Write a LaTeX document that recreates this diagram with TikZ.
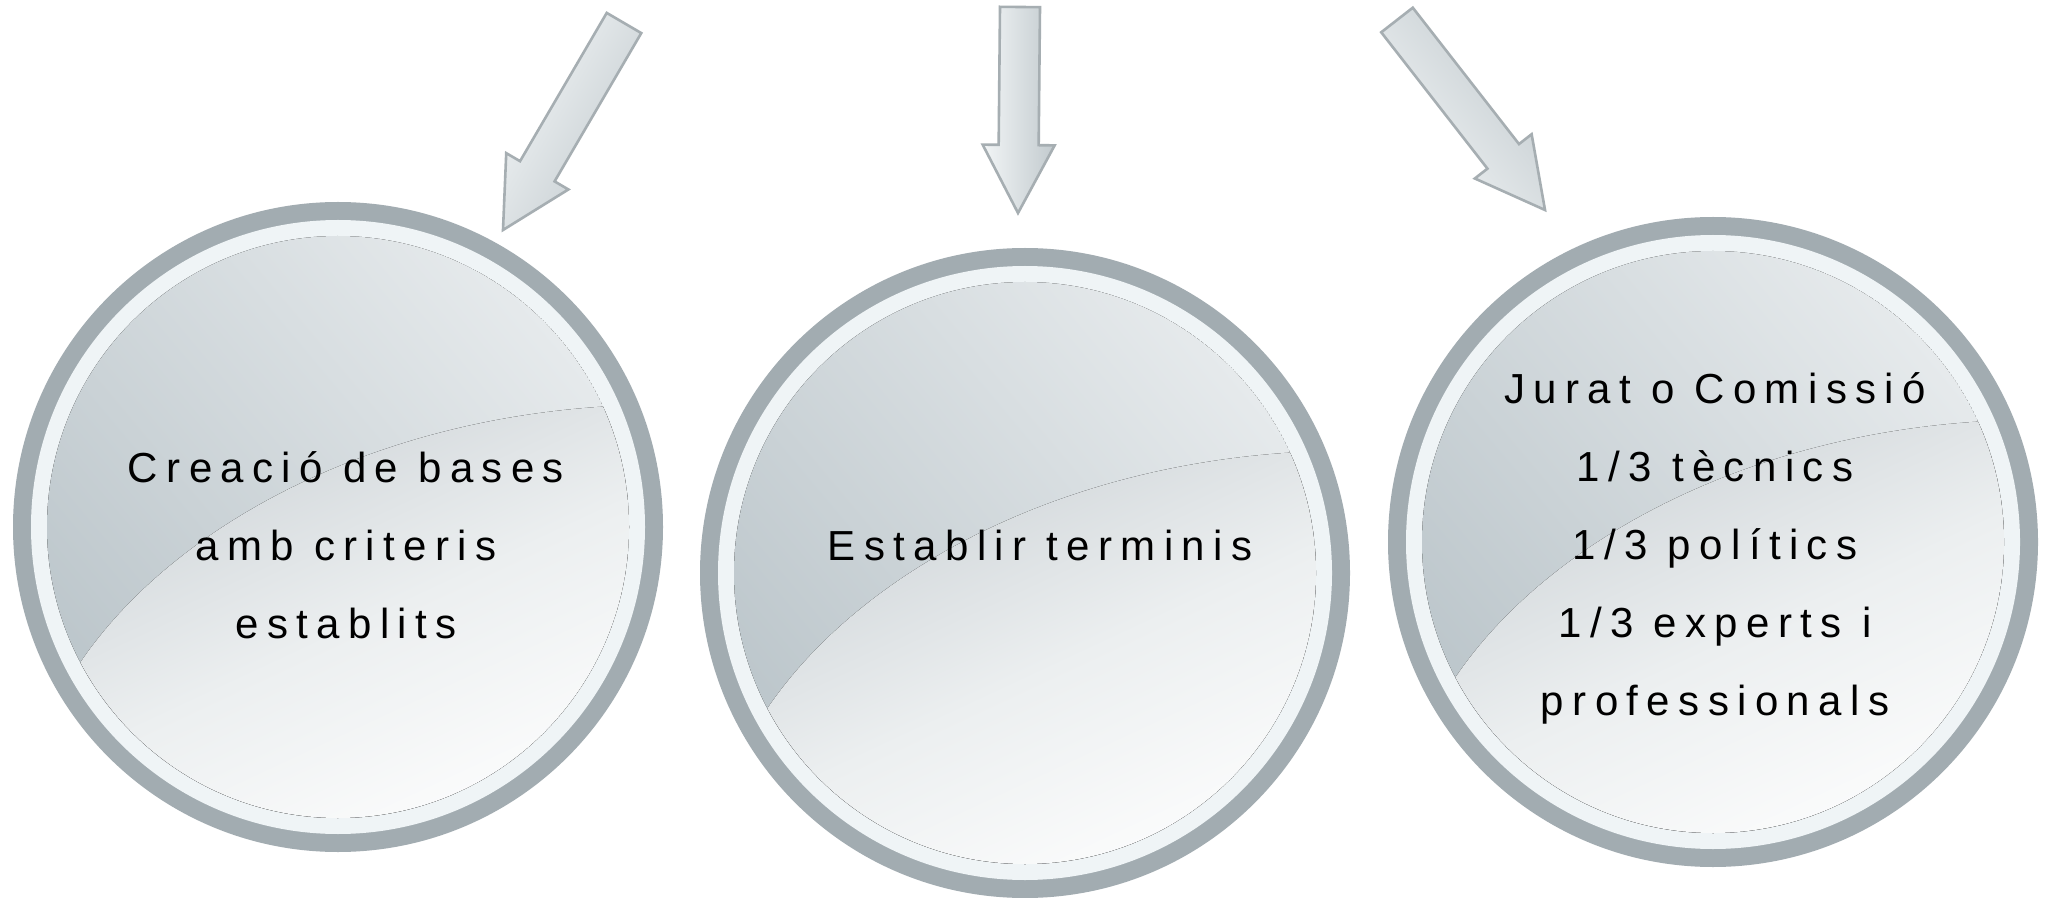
\documentclass[tikz,border=0pt]{standalone}
\usepackage{fontspec}
\setmainfont{Liberation Sans}
\newfontfamily\lblfont{Liberation Sans}[LetterSpace=20]
\usetikzlibrary{calc}

\definecolor{ringgray}{HTML}{A2ACB1}
\definecolor{ringwhite}{HTML}{EFF4F6}
\definecolor{innerdark}{HTML}{BCC6CB}
\definecolor{innerlight}{HTML}{E6EAEC}
\definecolor{glossdark}{HTML}{CBD1D5}
\definecolor{glossmid}{HTML}{ECEFF0}
\definecolor{glosslight}{HTML}{FFFFFF}
\definecolor{arrowline}{HTML}{A6AEB2}
\definecolor{arrowlight}{HTML}{F2F5F6}
\definecolor{arrowdark}{HTML}{C2CACE}

\tikzset{
  lbl/.style={align=center, font=\lblfont\fontsize{21}{39}\selectfont, text=black, inner sep=0pt},
  arrowbody/.style={draw=arrowline, line width=1.3pt, line join=miter,
    top color=arrowlight, bottom color=arrowdark},
}

\newcommand\glossdisc[1]{%
  \fill[ringgray] (#1) circle[radius=162.5pt];
  \fill[ringwhite] (#1) circle[radius=153.5pt];
  \begin{scope}
    \clip (#1) circle[radius=145.5pt];
    \fill[top color=innerlight, bottom color=innerdark, shading angle=-50] (#1) circle[radius=145.5pt];
    \fill[top color=glossdark, bottom color=glosslight, middle color=glossmid, shading angle=25]
      ($(#1)+(-262,142)$) .. controls ($(#1)+(-170,0)$) and ($(#1)+(40,-115)$) .. ($(#1)+(300,-122)$)
      -- ($(#1)+(340,340)$) -- ($(#1)+(-340,340)$) -- cycle;
  \end{scope}
}

\newcommand\blockarrow[3]{%
  \coordinate (#1h) at ($(#2)!34pt!(#1)$);
  \draw[arrowbody, shading angle=#3]
    ($(#1)!10pt!90:(#2)$) -- ($(#1h)!10pt!-90:(#1)$) -- ($(#1h)!18pt!-90:(#1)$)
    -- (#2) -- ($(#1h)!18pt!90:(#1)$) -- ($(#1h)!10pt!90:(#1)$)
    -- ($(#1)!10pt!-90:(#2)$) -- cycle;
}

\begin{document}
\begin{tikzpicture}[x=0.5pt, y=-0.5pt]
  \useasboundingbox (0,0) rectangle (2045,898);
  \fill[white] (0,0) rectangle (2045,898);

  \coordinate (c1) at (338,527);
  \coordinate (c2) at (1025,573);
  \coordinate (c3) at (1713,542);

  \glossdisc{c1}
  \glossdisc{c2}
  \glossdisc{c3}

  \coordinate (a1s) at (624,23);
  \coordinate (a1e) at (503,230);
  \coordinate (a2s) at (1020,7);
  \coordinate (a2e) at (1018,213);
  \coordinate (a3s) at (1397,20);
  \coordinate (a3e) at (1545,210);

  \blockarrow{a1s}{a1e}{60}
  \blockarrow{a2s}{a2e}{90}
  \blockarrow{a3s}{a3e}{128}

  \node[lbl] (t1) at (346,545) {Creació de bases\\amb criteris\\establits};
  \node[lbl] (t2) at (1040,545) {Establir terminis};
  \node[lbl] (t3) at (1715,548) {Jurat o Comissió\\1/3 tècnics\\1/3 polítics\\1/3 experts i\\professionals};
\end{tikzpicture}
\end{document}
